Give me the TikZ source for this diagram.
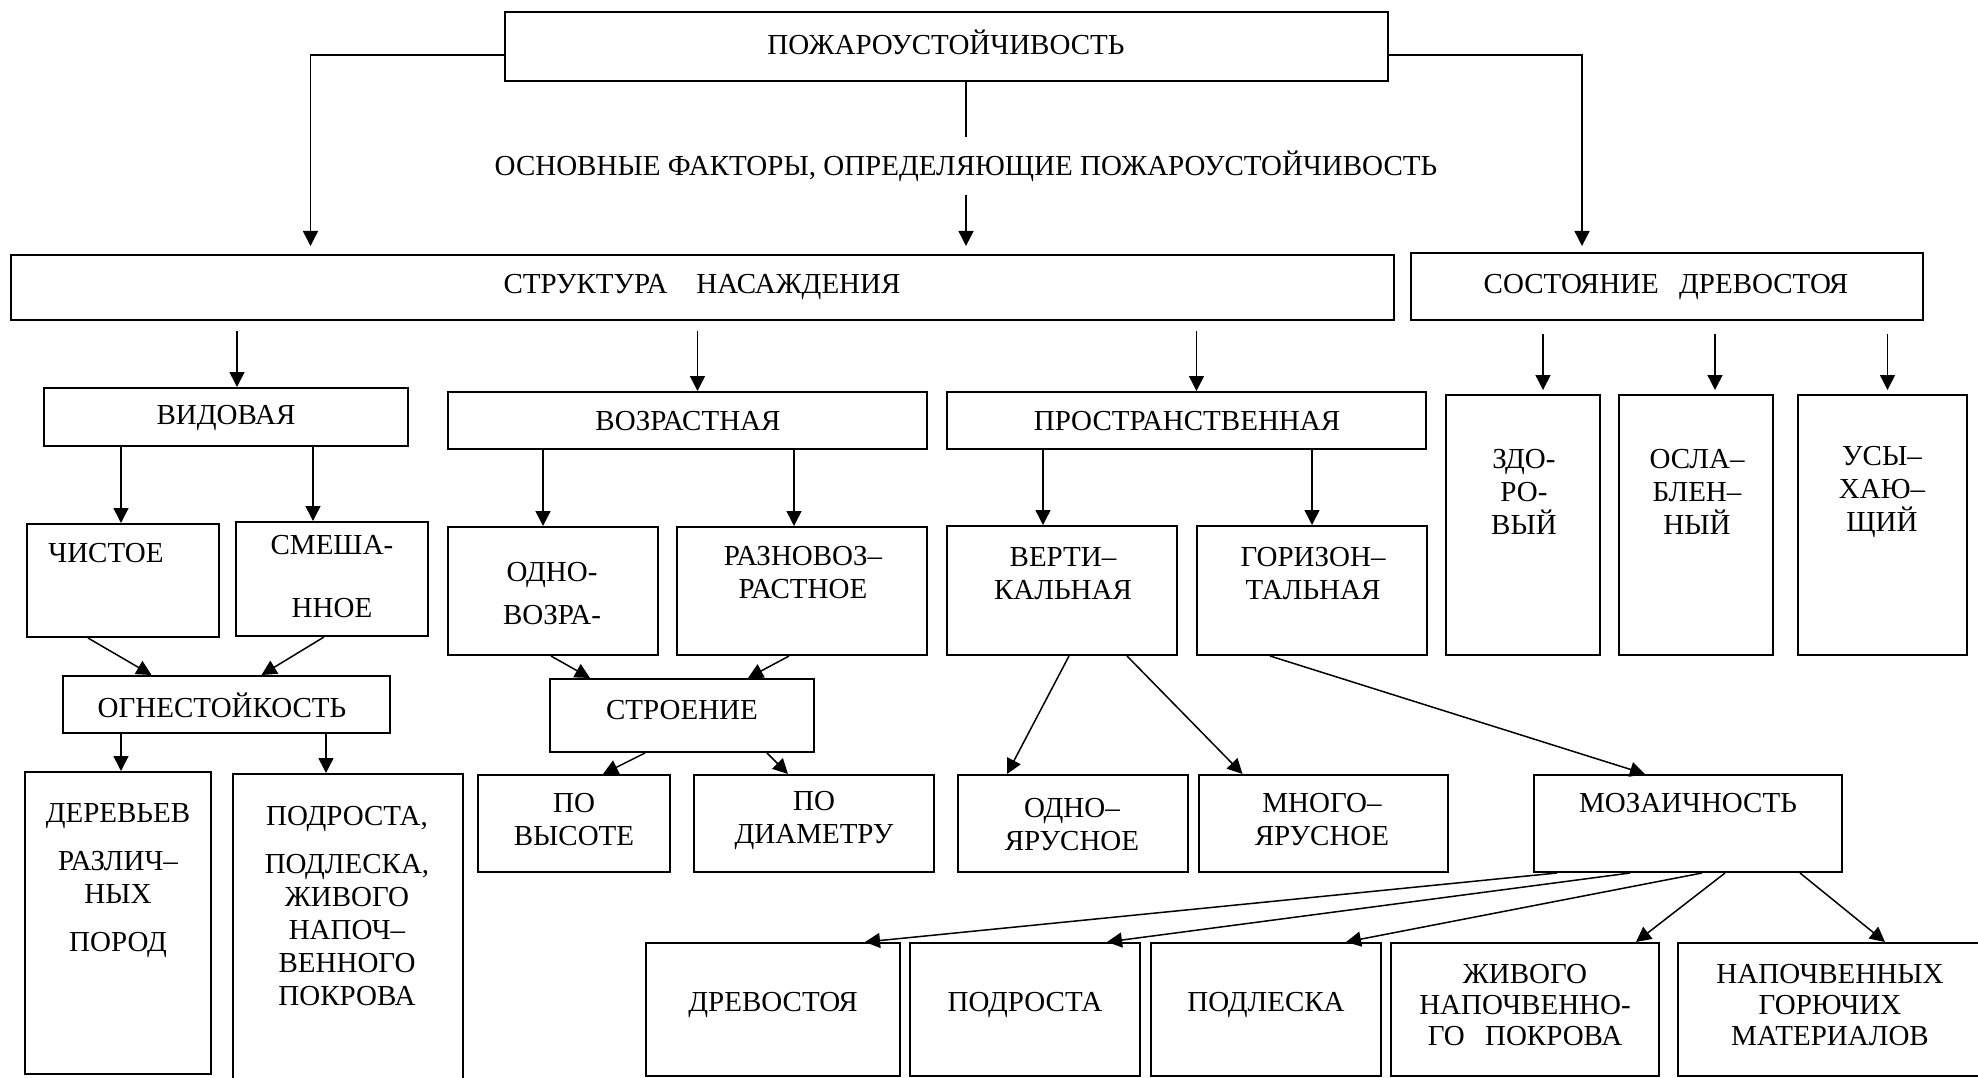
\documentclass[tikz,border=0pt]{standalone}
\usepackage{fontspec}
\setmainfont{Liberation Serif}
\usetikzlibrary{arrows.meta,calc,fit}

\begin{document}
\begin{tikzpicture}[x=1pt,y=-1pt,
  box/.style={draw,line width=2pt,inner sep=0pt},
  lbl/.style={align=center,inner sep=0pt,font=\fontsize{29}{33}\selectfont},
  arr/.style={line width=1.5pt,-{Triangle[length=15pt,width=15pt]}}]
\useasboundingbox (0,0) rectangle (1978,1078);

%Shape: Rectangle
\node[box,fit={(505,12) (1388,81)}] (pozh) {};
\node[box,fit={(11,255) (1394,320)}] (struct) {};
\node[box,fit={(1411,253) (1923,320)}] (sost) {};
%Shape: Rectangle
\node[box,fit={(44,388) (408,446)}] (vid) {};
\node[box,fit={(448,392) (927,449)}] (vozr) {};
\node[box,fit={(947,392) (1426,449)}] (prost) {};
\node[box,fit={(1446,395) (1600,655)}] (zdor) {};
\node[box,fit={(1619,395) (1773,655)}] (oslab) {};
\node[box,fit={(1798,395) (1967,655)}] (usyh) {};
%Shape: Rectangle
\node[box,fit={(27,524) (219,637)}] (chist) {};
\node[box,fit={(236,522) (428,636)}] (smesh) {};
\node[box,fit={(448,527) (658,655)}] (odnovoz) {};
\node[box,fit={(677,527) (927,655)}] (raznovoz) {};
\node[box,fit={(947,526) (1177,655)}] (vert) {};
\node[box,fit={(1197,526) (1427,655)}] (goriz) {};
\node[box,fit={(63,676) (390,733)}] (ogn) {};
\node[box,fit={(550,679) (814,752)}] (stroen) {};
%Shape: Rectangle
\node[box,fit={(25,772) (211,1074)}] (derev) {};
\node[box,fit={(233,774) (463,1090)}] (podrost) {};
\node[box,fit={(478,775) (670,872)}] (vysota) {};
\node[box,fit={(694,775) (934,872)}] (diam) {};
\node[box,fit={(958,775) (1188,872)}] (odnoyar) {};
\node[box,fit={(1199,775) (1448,872)}] (mnogoyar) {};
\node[box,fit={(1534,775) (1842,872)}] (moz) {};
%Shape: Rectangle
\node[box,fit={(646,943) (900,1076)}] (drev) {};
\node[box,fit={(910,943) (1140,1076)}] (podr) {};
\node[box,fit={(1151,943) (1381,1076)}] (podl) {};
\node[box,fit={(1391,943) (1659,1076)}] (zhiv) {};
\node[box,fit={(1678,943) (1990,1076)}] (napoch) {};

% Text Node
\node[lbl] (pozh-t) at (946,42) {ПОЖАРОУСТОЙЧИВОСТЬ};
\node[lbl,inner ysep=13pt] (factors) at (966,166) {ОСНОВНЫЕ ФАКТОРЫ, ОПРЕДЕЛЯЮЩИЕ ПОЖАРОУСТОЙЧИВОСТЬ};
\node[lbl] (struct-t) at (702,287) {СТРУКТУРА\quad НАСАЖДЕНИЯ};
\node[lbl] (sost-t) at (1666,287) {СОСТОЯНИЕ\hspace{0.7em}ДРЕВОСТОЯ};
% Text Node
\node[lbl] (vid-t) at (226,418) {ВИДОВАЯ};
\node[lbl] (vozr-t) at (688,421) {ВОЗРАСТНАЯ};
\node[lbl] (prost-t) at (1187,421) {ПРОСТРАНСТВЕННАЯ};
\node[lbl] (zdor-t) at (1524,492) {ЗДО-\\РО-\\ВЫЙ};
\node[lbl] (oslab-t) at (1697,492) {ОСЛА–\\БЛЕН–\\НЫЙ};
\node[lbl] (usyh-t) at (1882,492) {УСЫ–\\ХАЮ–\\ЩИЙ};
% Text Node
\node[lbl] (chist-t) at (106,553) {ЧИСТОЕ};
\node[lbl] (smesh-t) at (332,577) {СМЕША-\\[30pt]ННОЕ};
\node[lbl] (odnovoz-t) at (552,594) {ОДНО-\\[10pt]ВОЗРА-};
\node[lbl] (raznovoz-t) at (803,573) {РАЗНОВОЗ–\\РАСТНОЕ};
\node[lbl] (vert-t) at (1063,574) {ВЕРТИ–\\КАЛЬНАЯ};
\node[lbl] (goriz-t) at (1313,574) {ГОРИЗОН–\\ТАЛЬНАЯ};
\node[lbl] (ogn-t) at (222,705) {ОГНЕСТОЙКОСТЬ};
\node[lbl] (stroen-t) at (682,710) {СТРОЕНИЕ};
% Text Node
\node[lbl] (derev-t) at (118,881) {ДЕРЕВЬЕВ\\[15pt]РАЗЛИЧ–\\НЫХ\\[15pt]ПОРОД};
\node[lbl] (podrost-t) at (347,906) {ПОДРОСТА,\\[15pt]ПОДЛЕСКА,\\ЖИВОГО\\НАПОЧ–\\ВЕННОГО\\ПОКРОВА};
\node[lbl] (vysota-t) at (574,820) {ПО\\ВЫСОТЕ};
\node[lbl] (diam-t) at (814,820) {ПО\\ДИАМЕТРУ};
\node[lbl] (odnoyar-t) at (1072,825) {ОДНО–\\ЯРУСНОЕ};
\node[lbl] (mnogoyar-t) at (1322,820) {МНОГО–\\ЯРУСНОЕ};
\node[lbl] (moz-t) at (1688,803) {МОЗАИЧНОСТЬ};
% Text Node
\node[lbl] (drev-t) at (773,1005) {ДРЕВОСТОЯ};
\node[lbl] (podr-t) at (1025,1005) {ПОДРОСТА};
\node[lbl] (podl-t) at (1266,1005) {ПОДЛЕСКА};
\node[lbl] (zhiv-t) at (1525,1005) {ЖИВОГО\\[-2pt]НАПОЧВЕННО-\\[-2pt]ГО\hspace{0.7em}ПОКРОВА};
\node[lbl] (napoch-t) at (1830,1005) {НАПОЧВЕННЫХ\\[-2pt]ГОРЮЧИХ\\[-2pt]МАТЕРИАЛОВ};

%Straight Lines
\draw[arr,shorten >=8pt] ([yshift=-8.5pt]pozh.west) -| ($(struct.north)+(-392,0)$);
\draw[arr,shorten >=6pt] ([yshift=-8.5pt]pozh.east) -| ($(sost.north)+(-85,0)$);
\draw[line width=1.5pt] (pozh.south -| factors.north) -- (factors.north);
\draw[arr,shorten >=8pt] (factors.south) -- (factors.south |- struct.north);
%Straight Lines
\draw[arr,shorten <=10pt] ($(vid.north |- struct.south)+(11,0)$) -- ($(vid.north)+(11,0)$);
\draw[arr,shorten <=10pt] ($(vozr.north |- struct.south)+(10,0)$) -- ($(vozr.north)+(10,0)$);
\draw[arr,shorten <=10pt] ($(prost.north |- struct.south)+(10,0)$) -- ($(prost.north)+(10,0)$);
\draw[arr,shorten <=13pt,shorten >=4pt] ($(zdor.north |- sost.south)+(20,0)$) -- ($(zdor.north)+(20,0)$);
\draw[arr,shorten <=13pt,shorten >=4pt] ($(oslab.north |- sost.south)+(19,0)$) -- ($(oslab.north)+(19,0)$);
\draw[arr,shorten <=13pt,shorten >=4pt] ($(usyh.north |- sost.south)+(5,0)$) -- ($(usyh.north)+(5,0)$);
%Straight Lines
\draw[arr] ($(chist.north |- vid.south)+(-2,0)$) -- ($(chist.north)+(-2,0)$);
\draw[arr] ($(smesh.north |- vid.south)+(-19,0)$) -- ($(smesh.north)+(-19,0)$);
\draw[arr] ($(odnovoz.north |- vozr.south)+(-10,0)$) -- ($(odnovoz.north)+(-10,0)$);
\draw[arr] ($(raznovoz.north |- vozr.south)+(-8,0)$) -- ($(raznovoz.north)+(-8,0)$);
\draw[arr] ($(vert.north |- prost.south)+(-19,0)$) -- ($(vert.north)+(-19,0)$);
\draw[arr] (goriz.north |- prost.south) -- (goriz.north);
%Straight Lines
\draw[arr] ($(chist.south)+(-35,0)$) -- ($(ogn.north)+(-75,0)$);
\draw[arr] ($(smesh.south)+(-8,0)$) -- ($(ogn.north)+(35,0)$);
\draw[arr] ($(odnovoz.south)+(-2,0)$) -- ($(stroen.north)+(-92,0)$);
\draw[arr] ($(raznovoz.south)+(-13,0)$) -- ($(stroen.north)+(66,0)$);
%Straight Lines
\draw[arr] ($(derev.north |- ogn.south)+(3,0)$) -- ($(derev.north)+(3,0)$);
\draw[arr] ($(podrost.north |- ogn.south)+(-22,0)$) -- ($(podrost.north)+(-22,0)$);
\draw[arr] ($(stroen.south)+(-37,0)$) -- ($(vysota.north)+(29,0)$);
\draw[arr] ($(stroen.south)+(85,0)$) -- ($(diam.north)+(-26,0)$);
\draw[arr] ($(vert.south)+(7,0)$) -- ($(odnoyar.north)+(-66,0)$);
\draw[arr] ($(vert.south)+(65,0)$) -- ($(mnogoyar.north)+(-81,0)$);
\draw[arr] ($(goriz.south)+(-42,0)$) -- ($(moz.north)+(-43,0)$);
%Straight Lines
\draw[arr] ($(moz.south)+(-131,0)$) -- ($(drev.north)+(92,0)$);
\draw[arr] ($(moz.south)+(-58,0)$) -- ($(podr.north)+(82,0)$);
\draw[arr] ($(moz.south)+(14,0)$) -- ($(podl.north)+(80,0)$);
\draw[arr] ($(moz.south)+(37,0)$) -- ($(zhiv.north)+(111,0)$);
\draw[arr] ($(moz.south)+(112,0)$) -- ($(napoch.north)+(51,0)$);

\end{tikzpicture}
\end{document}
